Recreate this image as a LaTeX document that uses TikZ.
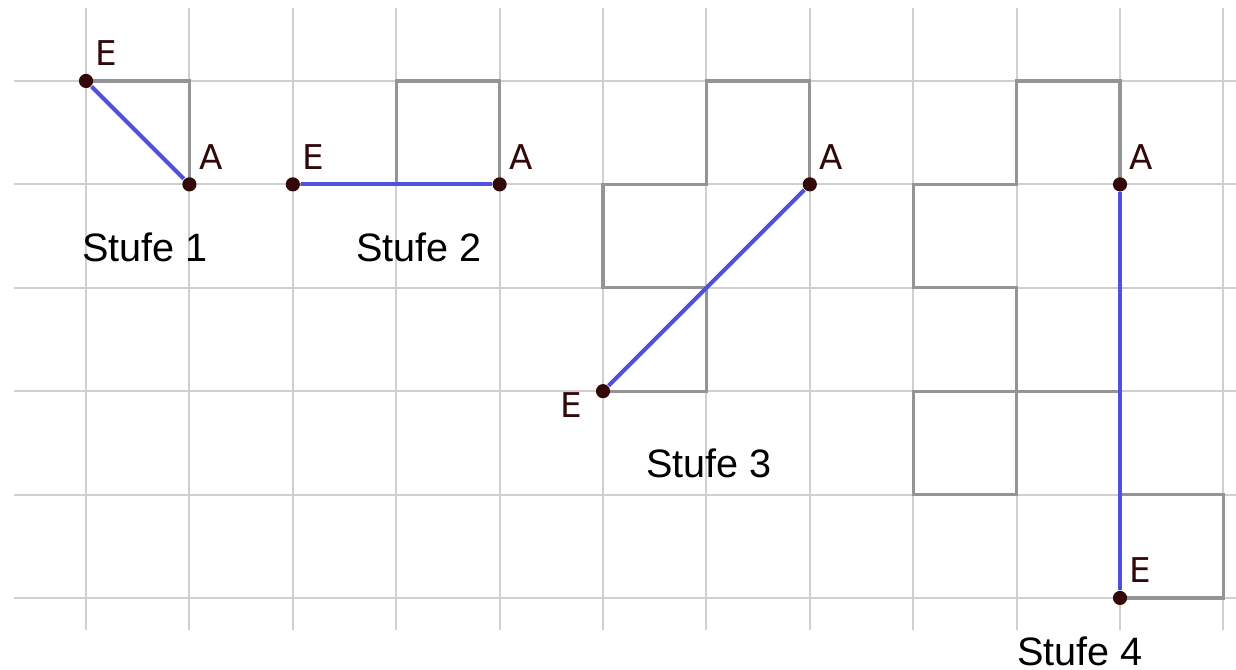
\documentclass[tikz,border=0pt]{standalone}
\usepackage{fontspec}
\setmainfont{Liberation Sans}
\newfontfamily\ptfont{DejaVu Sans}
\usetikzlibrary{positioning}
\definecolor{ptbrown}{RGB}{50,8,8}
\definecolor{segblue}{RGB}{80,80,222}

\begin{document}
\begin{tikzpicture}[
  gridline/.style={draw=black!19, line width=0.55pt},
  curve/.style={draw=black!42, line width=0.9pt, line join=miter},
  seg/.style={draw=segblue, line width=1.1pt},
  pt/.style={circle, fill=ptbrown, inner sep=0pt, minimum size=3.9pt},
  ptlabel/.style={font=\ptfont\fontsize{9.4}{11}\selectfont, text=ptbrown,
                  inner sep=1pt},
  stufe/.style={font=\fontsize{10.9}{13}\selectfont, inner sep=0pt}
]
\useasboundingbox (-0.832,-0.696) rectangle (11.122,5.783);

\foreach \x in {0,...,11}
  \draw[gridline] (\x,-0.31) -- (\x,5.71);
\foreach \y in {0,...,5}
  \draw[gridline] (-0.70,\y) -- (11.122,\y);

\draw[curve] (0,5) -- (1,5) -- (1,4);
\draw[curve] (2,4) -- (3,4) -- (3,5) -- (4,5) -- (4,4);
\draw[curve] (7,4) -- (7,5) -- (6,5) -- (6,4) -- (5,4) -- (5,3) -- (6,3)
  -- (6,2) -- (5,2);
\draw[curve] (10,4) -- (10,5) -- (9,5) -- (9,4) -- (8,4) -- (8,3) -- (9,3)
  -- (9,2) -- (8,2) -- (8,1) -- (9,1) -- (9,2) -- (10,2) -- (10,1) -- (11,1)
  -- (11,0) -- (10,0);

\node[pt] (e1) at (0,5) {};
\node[pt] (a1) at (1,4) {};
\node[pt] (e2) at (2,4) {};
\node[pt] (a2) at (4,4) {};
\node[pt] (a3) at (7,4) {};
\node[pt] (e3) at (5,2) {};
\node[pt] (a4) at (10,4) {};
\node[pt] (e4) at (10,0) {};

\foreach \s in {1,...,4}
  \draw[seg] (e\s) -- (a\s);

\node[ptlabel, above right=0.05cm and 0cm of e1] (le1) {E};
\node[ptlabel, above right=0.05cm and 0cm of a1] (la1) {A};
\node[ptlabel, above right=0.05cm and 0cm of e2] (le2) {E};
\node[ptlabel, above right=0.05cm and 0cm of a2] (la2) {A};
\node[ptlabel, above right=0.05cm and 0cm of a3] (la3) {A};
\node[ptlabel, left=0.08cm of e3, yshift=-0.13cm] (le3) {E};
\node[ptlabel, above right=0.05cm and 0cm of a4] (la4) {A};
\node[ptlabel, above right=0.05cm and 0cm of e4] (le4) {E};

\node[stufe] (s1) at (0.571,3.395) {Stufe 1};
\node[stufe] (s2) at (3.221,3.39) {Stufe 2};
\node[stufe] (s3) at (6.025,1.306) {Stufe 3};
\node[stufe] (s4) at (9.613,-0.513) {Stufe 4};
\end{tikzpicture}
\end{document}
